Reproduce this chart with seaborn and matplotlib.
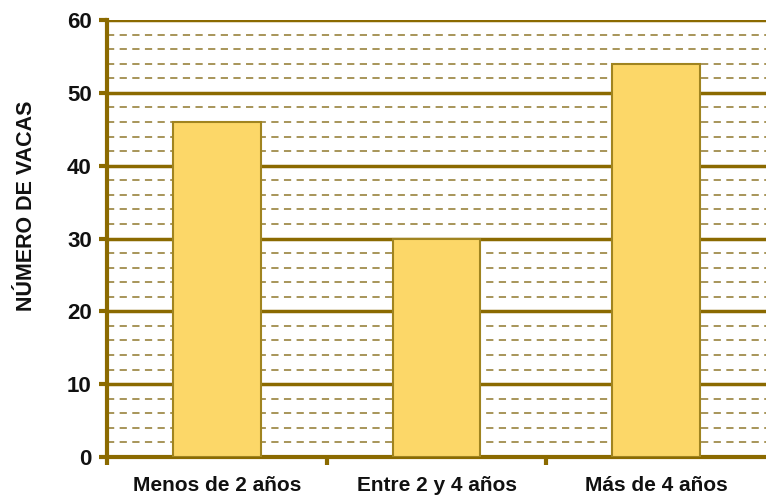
import pandas as pd
import seaborn as sns
import matplotlib.pyplot as plt
from matplotlib.ticker import MultipleLocator, FixedLocator

# datos
categorias = ['Menos de 2 años', 'Entre 2 y 4 años', 'Más de 4 años']
vacas = [46, 30, 54]

df = pd.DataFrame({'edad': categorias, 'vacas': vacas})

sns.set_style('white')
plt.rcParams['font.family'] = ['Liberation Sans', 'DejaVu Sans']

oro = '#8B6A00'
fig = plt.figure(figsize=(7.66, 4.98), dpi=100)
ax = fig.add_axes([0.1397, 0.0823, 0.8603, 0.8775])

sns.barplot(data=df, x='edad', y='vacas', color='#FCD768', edgecolor='#A08420',
            linewidth=1.5, width=0.4, saturation=1, ax=ax, zorder=3)

ax.set_ylim(0, 60)
ax.set_xlim(-0.5, 2.5)
ax.yaxis.set_major_locator(MultipleLocator(10))
ax.yaxis.set_minor_locator(MultipleLocator(2))
ax.xaxis.set_minor_locator(FixedLocator([-0.5, 0.5, 1.5]))

# rejilla
ax.grid(which='major', axis='y', color=oro, linewidth=2.5, zorder=1)
ax.grid(which='minor', axis='y', color='#A08C4C', linewidth=1.3,
        linestyle=(0, (4, 3)), zorder=1)
ax.grid(which='major', axis='x', visible=False)
ax.set_axisbelow(True)

for s in ['top', 'right']:
    ax.spines[s].set_visible(False)
for s in ['left', 'bottom']:
    ax.spines[s].set_color(oro)
    ax.spines[s].set_linewidth(3)

ax.tick_params(axis='y', which='major', length=6, width=3, color=oro,
               labelsize=16, pad=5, left=True, labelcolor='#111111')
ax.tick_params(axis='y', which='minor', length=0)
ax.tick_params(axis='x', which='major', length=0, labelsize=15, pad=14,
               labelcolor='#111111')
ax.tick_params(axis='x', which='minor', length=6, width=3, color=oro, bottom=True)

for lab in ax.get_yticklabels() + ax.get_xticklabels():
    lab.set_fontweight('bold')

ax.set_xlabel('')
ax.set_ylabel('NÚMERO DE VACAS', fontsize=15.5, fontweight='bold', color='#111111')
ax.yaxis.set_label_coords(-0.106, 0.574)

fig.savefig('out.png', dpi=100)
